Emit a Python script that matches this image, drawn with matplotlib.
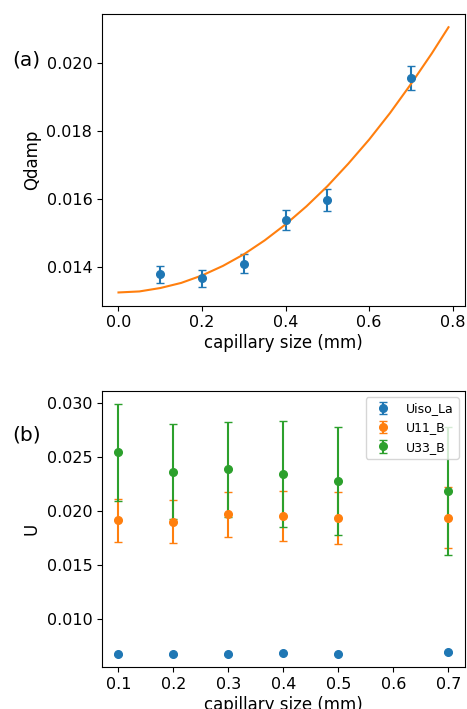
import matplotlib
matplotlib.use('Agg')
from matplotlib import pyplot as plt

# (a) Qdamp vs capillary size
cap_a = [0.1, 0.2, 0.3, 0.4, 0.5, 0.7]
qdamp = [0.01379, 0.01367, 0.01411, 0.01538, 0.01597, 0.01957]
qdamp_err = [0.00026, 0.00026, 0.00027, 0.00030, 0.00032, 0.00035]

# fitted curve
fit_x = [0.0, 0.05, 0.1, 0.15, 0.2, 0.25, 0.3, 0.35, 0.4, 0.45, 0.5,
         0.55, 0.6, 0.65, 0.7, 0.75, 0.79]
fit_y = [0.01326, 0.01329, 0.01339, 0.01354, 0.01376, 0.01404, 0.01438,
         0.01479, 0.01526, 0.01579, 0.01638, 0.01704, 0.01775, 0.01853,
         0.01938, 0.02028, 0.02105]

# (b) U values vs capillary size
cap_b = [0.1, 0.2, 0.3, 0.4, 0.5, 0.7]
uiso_la = [0.00677, 0.00677, 0.00677, 0.00689, 0.00680, 0.00696]
uiso_la_err = [0.00004, 0.00004, 0.00004, 0.00004, 0.00004, 0.00004]
u11_b = [0.01916, 0.01903, 0.01972, 0.01953, 0.01935, 0.01941]
u11_b_err = [0.0020, 0.0020, 0.0021, 0.0023, 0.0024, 0.0028]
u33_b = [0.02546, 0.02366, 0.02388, 0.02341, 0.02280, 0.02186]
u33_b_err = [0.0045, 0.0044, 0.0044, 0.0049, 0.0050, 0.0059]

plt.rcParams['font.size'] = 11.5
plt.rcParams['axes.labelsize'] = 12

fig = plt.figure(figsize=(4.67, 7.09), dpi=100)
ax1 = fig.add_axes([0.2184, 0.5688, 0.7773, 0.4115])
ax2 = fig.add_axes([0.2184, 0.0588, 0.7773, 0.3897])

ax1.errorbar(cap_a, qdamp, yerr=qdamp_err, fmt='o', capsize=3, markersize=5.5)
ax1.plot(fit_x, fit_y)
ax1.set_xlabel('capillary size (mm)', labelpad=2.5)
ax1.set_ylabel('Qdamp')
ax1.set_xticks([0.0, 0.2, 0.4, 0.6, 0.8])
ax1.set_yticks([0.014, 0.016, 0.018, 0.020])

ax2.errorbar(cap_b, uiso_la, yerr=uiso_la_err, fmt='o', capsize=3,
             markersize=5.5, label='Uiso_La')
ax2.errorbar(cap_b, u11_b, yerr=u11_b_err, fmt='o', capsize=3,
             markersize=5.5, label='U11_B')
ax2.errorbar(cap_b, u33_b, yerr=u33_b_err, fmt='o', capsize=3,
             markersize=5.5, label='U33_B')
ax2.set_xlabel('capillary size (mm)', labelpad=2.5)
ax2.set_ylabel('U')
ax2.set_yticks([0.010, 0.015, 0.020, 0.025, 0.030])
ax2.legend(loc='upper right', fontsize=9)

fig.text(12 / 467, 1 - 60 / 709, '(a)', fontsize=14.5, va='center')
fig.text(12 / 467, 1 - 435 / 709, '(b)', fontsize=14.5, va='center')

fig.savefig('out.png', dpi=100)
